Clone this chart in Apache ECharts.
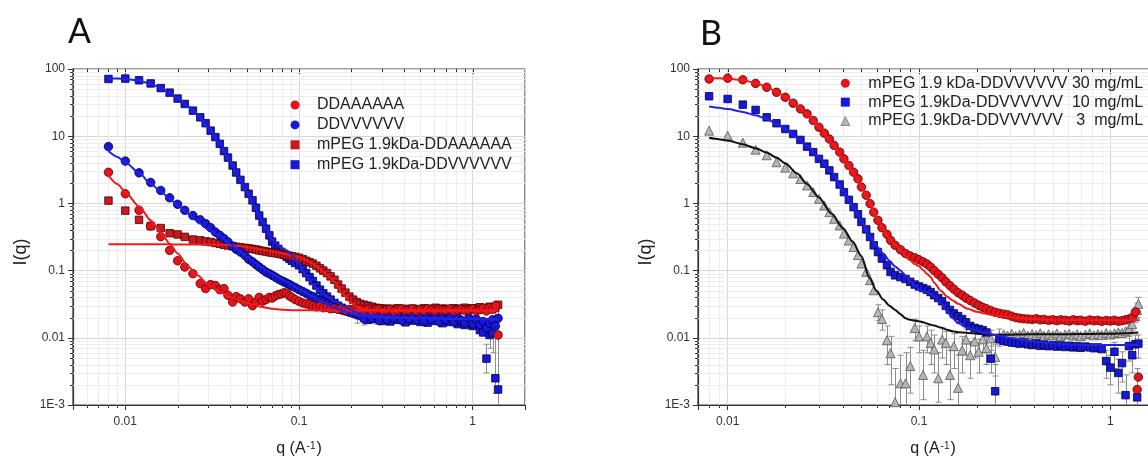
<!DOCTYPE html>
<html>
<head>
<meta charset="utf-8">
<script src="https://cdn.jsdelivr.net/npm/echarts@6.0.0/dist/echarts.min.js"></script>
<style>html,body{margin:0;padding:0;background:#fff}#c{width:1148px;height:459px}</style>
</head>
<body>
<div id="c"></div>
<script>
// ---------------- tick labels ----------------
const xTickVals = [0.01, 0.1, 1];
const xTickLabels = ['0.01', '0.1', '1'];
const yTickVals = [0.001, 0.01, 0.1, 1, 10, 100];
const yTickLabels = ['1E-3', '0.01', '0.1', '1', '10', '100'];
const xMinorA = [0.006,0.007,0.008,0.009,0.02,0.03,0.04,0.05,0.06,0.07,0.08,0.09,0.2,0.3,0.4,0.5,0.6,0.7,0.8,0.9];
const xMinorB = [0.008,0.009,0.02,0.03,0.04,0.05,0.06,0.07,0.08,0.09,0.2,0.3,0.4,0.5,0.6,0.7,0.8,0.9];
const yMinor = [0.002,0.003,0.004,0.005,0.006,0.007,0.008,0.009,0.02,0.03,0.04,0.05,0.06,0.07,0.08,0.09,
  0.2,0.3,0.4,0.5,0.6,0.7,0.8,0.9,2,3,4,5,6,7,8,9,20,30,40,50,60,70,80,90];

// ---------------- panel A data ----------------
const namesA = ['DDAAAAAA', 'DDVVVVVV', 'mPEG 1.9kDa-DDAAAAAA', 'mPEG 1.9kDa-DDVVVVVV'];
const qA = [0.008,0.010,0.012,0.014,0.016,0.018,0.020,0.022,0.0245,0.027,
  0.029,0.031,0.033,0.035,0.037,0.039,0.0415,0.0435,0.046,0.0488,
  0.0513,0.054,0.0565,0.059,0.0617,0.0646,0.0675,0.070,0.073,0.076,
  0.079,0.082,0.085,0.088,0.091,0.095,0.100,0.105,0.110,0.115,
  0.120,0.126,0.132,0.138,0.145,0.152,0.160,0.168,0.176,0.185,
  0.195,0.205,0.215,0.225,0.237,0.250,0.263,0.277,0.290,0.305,
  0.320,0.335,0.352,0.370,0.390,0.410,0.430,0.450,0.475,0.500,
  0.525,0.550,0.580,0.610,0.640,0.670,0.700,0.740,0.780,0.820,
  0.860,0.900,0.950,1.000,1.050,1.100,1.150,1.200,1.250,1.300,
  1.350,1.400];
const iA_DDA = [2.9,1.39,0.79,0.46,0.32,0.20,0.14,0.113,0.09,0.064,
  0.054,0.062,0.06,0.052,0.054,0.043,0.034,0.041,0.038,0.034,
  0.038,0.030,0.034,0.040,0.035,0.037,0.040,0.039,0.042,0.044,
  0.045,0.047,0.046,0.042,0.040,0.037,0.035,0.033,0.032,0.031,
  0.030,0.029,0.0295,0.028,0.0285,0.027,0.0275,0.0265,0.027,0.026,
  0.0265,0.026,0.0255,0.027,0.026,0.0265,0.025,0.0262,0.0268,0.0255,
  0.026,0.0265,0.025,0.0258,0.027,0.0255,0.026,0.0268,0.025,0.0262,
  0.0255,0.027,0.026,0.0252,0.0265,0.026,0.0258,0.0268,0.025,0.026,
  0.0265,0.0255,0.026,0.027,0.025,0.0262,0.0275,0.025,0.028,0.0265,
  0.030,0.011];
const iA_DDV = [7.0,4.26,2.85,2.05,1.56,1.21,0.97,0.79,0.66,0.57,
  0.50,0.435,0.375,0.335,0.30,0.267,0.232,0.207,0.189,0.169,
  0.148,0.135,0.123,0.113,0.104,0.095,0.09,0.085,0.08,0.075,
  0.071,0.068,0.065,0.062,0.059,0.056,0.052,0.049,0.046,0.043,
  0.041,0.038,0.036,0.034,0.032,0.030,0.028,0.027,0.026,0.025,
  0.024,0.023,0.022,0.0215,0.019,0.0225,0.0195,0.0215,0.018,0.0222,
  0.0188,0.0228,0.0195,0.0218,0.0182,0.0215,0.0192,0.0225,0.0185,0.021,
  0.0178,0.0215,0.019,0.0222,0.0175,0.021,0.0185,0.0205,0.0172,0.020,
  0.0182,0.0168,0.0198,0.016,0.019,0.0158,0.0175,0.014,0.0165,0.0185,
  0.015,0.0195];
const iA_PDA = [1.1,0.78,0.57,0.46,0.43,0.36,0.345,0.318,0.29,0.282,
  0.272,0.266,0.258,0.25,0.242,0.236,0.23,0.226,0.222,0.218,
  0.214,0.21,0.206,0.20,0.196,0.192,0.188,0.185,0.182,0.179,
  0.175,0.172,0.169,0.166,0.163,0.16,0.155,0.148,0.14,0.133,
  0.127,0.118,0.108,0.10,0.092,0.082,0.073,0.062,0.054,0.047,
  0.041,0.037,0.034,0.032,0.031,0.030,0.029,0.028,0.0275,0.027,
  0.0272,0.0265,0.027,0.0275,0.0265,0.027,0.026,0.0272,0.0268,0.026,
  0.0275,0.0265,0.027,0.028,0.0265,0.0272,0.027,0.0262,0.0275,0.027,
  0.0268,0.028,0.0265,0.0275,0.027,0.0285,0.0268,0.0275,0.029,0.0272,
  0.028,0.031];
const iA_PDV = [71,72,68,61,52,44.5,36.3,30.2,24,19.1,
  15.6,12.1,9.7,7.7,6.0,4.8,3.66,2.88,2.24,1.75,
  1.39,1.11,0.86,0.66,0.53,0.42,0.335,0.27,0.235,0.21,
  0.19,0.175,0.16,0.15,0.14,0.13,0.12,0.105,0.092,0.08,
  0.07,0.06,0.052,0.046,0.041,0.037,0.033,0.030,0.028,0.026,
  0.025,0.024,0.023,0.022,0.0205,0.0185,0.0225,0.019,0.0215,0.0178,
  0.021,0.0175,0.0205,0.0185,0.0215,0.017,0.020,0.018,0.0212,0.0172,
  0.0198,0.0168,0.0205,0.0178,0.0195,0.0165,0.0188,0.0172,0.0195,0.016,
  0.0175,0.0155,0.017,0.015,0.0165,0.013,0.012,0.0049,0.011,0.012,
  0.0025,0.0017];
const errA = [[0.215,0.0165,0.0225],[0.237,0.0155,0.022],[0.25,0.0165,0.023],[0.277,0.016,0.021],
  [1.2,0.003,0.008],[1.25,0.007,0.015],[1.3,0.006,0.016],[1.35,0.0015,0.025],[1.4,0.001,0.032]];
const fitQA = [0.008,0.009,0.010,0.012,0.014,0.016,0.018,0.020,0.023,0.026,
  0.030,0.035,0.040,0.045,0.050,0.055,0.060,0.065,0.070,0.075,
  0.080,0.085,0.090,0.100,0.110,0.120,0.130,0.140,0.150,0.160,
  0.180,0.200,0.220,0.250,0.300,0.350,0.400,0.500,0.600,0.800,
  1.000,1.200,1.400];
const fitA_DDA = [2.6,1.95,1.47,0.9,0.56,0.37,0.252,0.18,0.115,0.085,
  0.062,0.048,0.0405,0.036,0.033,0.031,0.029,0.028,0.027,0.0265,
  0.0262,0.026,0.0258,0.0257,0.0256,0.0256,0.0255,0.0255,0.0255,0.0255,
  0.0255,0.0255,0.0255,0.0255,0.0255,0.0255,0.0255,0.0255,0.0255,0.0255,
  0.0255,0.0255,0.0255];
const fitA_PDA = [0.246,0.246,0.246,0.246,0.246,0.246,0.246,0.245,0.245,0.245,
  0.244,0.242,0.238,0.232,0.225,0.217,0.208,0.200,0.193,0.187,
  0.181,0.175,0.168,0.158,0.145,0.127,0.11,0.093,0.08,0.067,
  0.044,0.033,0.028,0.026,0.0255,0.0255,0.0255,0.0255,0.0255,0.0255,
  0.0255,0.0255,0.0255];
const fitA_DDV = [6.0,4.9,4.1,2.85,1.96,1.5,1.17,0.95,0.7,0.54,
  0.41,0.33,0.25,0.2,0.16,0.135,0.115,0.1,0.09,0.082,
  0.074,0.068,0.062,0.053,0.046,0.041,0.036,0.033,0.030,0.028,
  0.025,0.0228,0.0215,0.0207,0.02,0.0198,0.0197,0.0195,0.0193,0.0191,
  0.019,0.0188,0.0186];
const fitA_PDV = [72,72,71,67,60,52,44,37,28,21,
  13.5,7.7,4.2,2.5,1.5,0.95,0.6,0.41,0.29,0.24,
  0.215,0.2,0.175,0.125,0.085,0.062,0.05,0.044,0.039,0.035,
  0.03,0.026,0.023,0.022,0.021,0.0205,0.02,0.0198,0.0196,0.0194,
  0.0192,0.019,0.0188];

// ---------------- panel B data ----------------
const namesB = ['mPEG 1.9 kDa-DDVVVVVV 30 mg/mL', 'mPEG 1.9kDa-DDVVVVVV  10 mg/mL', 'mPEG 1.9kDa-DDVVVVVV   3  mg/mL'];
const qB = [0.008,0.010,0.012,0.014,0.016,0.018,0.020,0.022,0.024,0.026,
  0.028,0.030,0.032,0.034,0.036,0.0385,0.0405,0.043,0.0455,0.048,
  0.050,0.053,0.0555,0.058,0.061,0.064,0.068,0.071,0.075,0.080,
  0.085,0.090,0.095,0.100,0.105,0.110,0.115,0.120,0.126,0.132,
  0.138,0.145,0.152,0.160,0.168,0.176,0.185,0.195,0.205,0.215,
  0.225,0.237,0.250,0.263,0.277,0.290,0.305,0.320,0.335,0.352,
  0.370,0.390,0.410,0.430,0.450,0.475,0.500,0.525,0.550,0.580,
  0.610,0.640,0.670,0.700,0.740,0.780,0.820,0.860,0.900,0.950,
  1.000,1.050,1.100,1.150,1.200,1.250,1.300,1.350,1.380,1.400];
const iB30 = [71,73,69,61,53.5,45,38,31,25.5,21.5,
  17.1,13.6,11.1,9.1,7.3,5.8,4.6,3.66,2.92,2.32,
  1.75,1.32,0.99,0.74,0.56,0.435,0.347,0.282,0.238,0.205,
  0.18,0.165,0.155,0.145,0.135,0.125,0.113,0.10,0.088,0.078,
  0.068,0.06,0.053,0.047,0.043,0.039,0.036,0.033,0.0305,0.0285,
  0.027,0.0255,0.024,0.0232,0.0225,0.022,0.021,0.020,0.0196,0.0192,
  0.019,0.0188,0.0192,0.0185,0.0188,0.0182,0.0186,0.018,0.0185,0.0182,
  0.0178,0.0185,0.018,0.0183,0.0177,0.0184,0.0179,0.0182,0.0176,0.0181,
  0.0178,0.0182,0.0176,0.018,0.0185,0.019,0.020,0.0243,0.0017,0.0026];
const iB10 = [39.3,35.8,29.5,24.6,19.1,15.6,12.8,10.8,8.8,7.0,
  5.8,4.6,3.9,3.1,2.46,1.91,1.47,1.13,0.88,0.69,
  0.53,0.41,0.316,0.238,0.189,0.151,0.12,0.0955,0.085,0.08,
  0.075,0.068,0.062,0.058,0.055,0.052,0.048,0.043,0.039,0.035,
  0.030,0.026,0.023,0.021,0.019,0.017,0.015,0.014,0.0135,0.013,
  0.012,0.0049,0.0016,0.0095,0.009,0.0088,0.0085,0.0084,0.0082,0.0085,
  0.008,0.0078,0.0082,0.0076,0.0079,0.0075,0.0078,0.0074,0.0077,0.0073,
  0.0076,0.0072,0.0075,0.0071,0.0074,0.0072,0.007,0.0072,0.0068,0.0045,
  0.0036,0.0062,0.003,0.0042,0.0014,0.0075,0.0055,0.008,0.0013,0.0082];
const iB3 = [12.1,10.2,8.0,6.3,5.2,4.1,3.4,2.8,2.3,1.85,
  1.47,1.17,0.93,0.74,0.59,0.47,0.355,0.28,0.224,0.17,
  0.127,0.096,0.072,0.051,0.024,0.019,0.0092,0.0059,0.0011,0.0021,
  0.0021,0.0038,0.014,0.0105,0.0028,0.0105,0.0084,0.0067,0.0025,0.0094,
  0.0084,0.0028,0.0075,0.0018,0.0065,0.0094,0.0055,0.0088,0.0062,0.0095,
  0.007,0.0098,0.0052,0.0105,0.0112,0.0108,0.0115,0.0106,0.0112,0.0118,
  0.0108,0.0114,0.011,0.0117,0.0107,0.0113,0.0109,0.0116,0.0106,0.0112,
  0.0115,0.0108,0.0113,0.0106,0.0112,0.0117,0.0109,0.0114,0.011,0.0118,
  0.0112,0.0116,0.0121,0.0118,0.0125,0.0135,0.016,0.021,0.026,0.032];
const errB3 = [[0.061,0.018,0.031],[0.064,0.013,0.026],[0.068,0.004,0.015],[0.071,0.002,0.0105],
  [0.075,0.001,0.0035],[0.08,0.001,0.0055],[0.085,0.001,0.006],[0.09,0.0015,0.0072],[0.095,0.009,0.019],
  [0.1,0.006,0.015],[0.105,0.0012,0.0065],[0.11,0.006,0.015],[0.115,0.004,0.013],[0.12,0.003,0.011],
  [0.126,0.0011,0.006],[0.132,0.005,0.014],[0.138,0.004,0.0125],[0.145,0.0012,0.0065],[0.152,0.0035,0.0115],
  [0.16,0.001,0.0055],[0.168,0.003,0.0105],[0.176,0.0055,0.0135],[0.185,0.0025,0.0088],[0.195,0.005,0.0125],
  [0.205,0.003,0.0095],[0.215,0.006,0.013],[0.225,0.004,0.01],[0.237,0.0065,0.013],[0.25,0.0027,0.008],
  [0.263,0.0075,0.0135],[1.25,0.011,0.016],[1.3,0.013,0.019],[1.35,0.017,0.026],[1.38,0.02,0.033],[1.4,0.025,0.04]];
const errB10 = [[0.237,0.003,0.0075],[0.25,0.001,0.004],[0.95,0.0025,0.0065],[1.0,0.002,0.0055],
  [1.05,0.0035,0.0085],[1.1,0.0015,0.0048],[1.15,0.0022,0.0062],[1.2,0.001,0.0028],[1.25,0.0045,0.0105],
  [1.3,0.003,0.0085],[1.35,0.005,0.011],[1.38,0.001,0.0035],[1.4,0.005,0.011]];
const fitQB = [0.008,0.009,0.010,0.012,0.014,0.016,0.018,0.020,0.023,0.026,
  0.030,0.035,0.040,0.045,0.050,0.055,0.060,0.065,0.070,0.075,
  0.080,0.085,0.090,0.095,0.100,0.105,0.110,0.115,0.120,0.130,
  0.140,0.150,0.160,0.180,0.200,0.220,0.250,0.300,0.350,0.400,
  0.500,0.600,0.800,1.000,1.200,1.400];
const fitB30 = [73,73,72,68,62,54,46,38.5,29,21.5,
  13.8,8.0,4.7,2.95,1.8,1.05,0.62,0.41,0.3,0.24,
  0.2,0.165,0.142,0.125,0.116,0.102,0.09,0.08,0.066,0.05,
  0.041,0.036,0.032,0.027,0.0245,0.023,0.0213,0.0203,0.0195,0.019,
  0.0186,0.0184,0.0183,0.0182,0.0182,0.0183];
const fitB10 = [27.6,26.5,25.3,23,20.5,18,15.3,12.8,9.6,7.2,
  4.8,2.9,1.55,0.92,0.55,0.33,0.23,0.18,0.14,0.115,
  0.1,0.084,0.07,0.06,0.053,0.05,0.048,0.045,0.041,0.033,
  0.025,0.0195,0.0165,0.014,0.0128,0.0118,0.011,0.0099,0.0093,0.0088,
  0.0083,0.008,0.0078,0.0078,0.0078,0.0078];
const fitB3 = [9.45,9.0,8.6,7.6,6.6,5.7,4.8,3.95,2.8,1.95,
  1.22,0.70,0.43,0.27,0.165,0.078,0.05,0.037,0.03,0.026,
  0.0225,0.0195,0.0185,0.018,0.0176,0.017,0.0163,0.0157,0.0152,0.0142,
  0.0132,0.0125,0.0121,0.0118,0.0115,0.0112,0.0111,0.0111,0.0112,0.0113,
  0.0113,0.0113,0.0114,0.0115,0.0117,0.012];

// ---------------- helpers ----------------
const FONT = '"Liberation Sans", Arial, Helvetica, sans-serif';
function toPts(qs, vs) { const o = []; for (let i = 0; i < qs.length; i++) if (vs[i] != null) o.push([qs[i], vs[i]]); return o; }
function near(v, t) { return Math.abs(Math.log10(v) - Math.log10(t)) < 1e-6; }
function fmtX(v) { for (let i = 0; i < xTickVals.length; i++) if (near(v, xTickVals[i])) return xTickLabels[i]; return ''; }
function fmtY(v) { for (let i = 0; i < yTickVals.length; i++) if (near(v, yTickVals[i])) return yTickLabels[i]; return ''; }

function xAxisCfg(gi, min, max) {
  return {
    type: 'log', logBase: 10, gridIndex: gi, min: min, max: max,
    axisLine: { show: true, onZero: false, lineStyle: { color: '#333', width: 1.2 } },
    axisTick: { show: true, inside: false, length: 5, lineStyle: { color: '#333', width: 1 } },
    axisLabel: { margin: 11, fontSize: 12, color: '#333', fontFamily: FONT, formatter: fmtX },
    splitLine: { show: true, lineStyle: { color: '#d6d6d6', width: 1 } },
    minorTick: { show: false }, minorSplitLine: { show: false },
    name: 'q (A{s|-1})', nameLocation: 'middle', nameGap: 36,
    nameTextStyle: { fontSize: 16, color: '#222', fontFamily: FONT,
      rich: { s: { fontSize: 10, fontFamily: FONT, color: '#222', verticalAlign: 'top', padding: [0, 1, 6, 1] } } }
  };
}
function yAxisCfg(gi) {
  return {
    type: 'log', logBase: 10, gridIndex: gi, min: 0.001, max: 100,
    axisLine: { show: true, onZero: false, lineStyle: { color: '#333', width: 1.2 } },
    axisTick: { show: true, inside: false, length: 5, lineStyle: { color: '#333', width: 1 } },
    axisLabel: { margin: 8, fontSize: 12, color: '#333', fontFamily: FONT, formatter: fmtY },
    splitLine: { show: true, lineStyle: { color: '#d6d6d6', width: 1 } },
    minorTick: { show: false }, minorSplitLine: { show: false },
    name: 'I(q)', nameLocation: 'middle', nameGap: 43,
    nameTextStyle: { fontSize: 18, color: '#222', fontFamily: FONT, padding: [0, 30, 0, 0] }
  };
}

function decorData(xMinor) {
  const d = [];
  xMinor.forEach(v => d.push([v, 1, 0]));
  xTickVals.forEach(v => d.push([v, 1, 2]));
  yMinor.forEach(v => d.push([1, v, 1]));
  return d;
}
function decorSeries(gi, xMinor) {
  return {
    type: 'custom', xAxisIndex: gi, yAxisIndex: gi, silent: true, z: 1, clip: false,
    encode: { x: 0, y: 1 }, data: decorData(xMinor),
    renderItem: function (params, api) {
      const cs = params.coordSys;
      const L = cs.x, R = cs.x + cs.width, T = cs.y, B = cs.y + cs.height;
      const kind = api.value(2);
      const ch = [];
      if (kind === 0 || kind === 2) {
        const px = Math.round(api.coord([api.value(0), 1])[0]) + 0.5;
        if (kind === 0) {
          ch.push({ type: 'line', shape: { x1: px, y1: T, x2: px, y2: B }, style: { stroke: '#ededed', lineWidth: 1 } });
          ch.push({ type: 'line', shape: { x1: px, y1: B, x2: px, y2: B + 3 }, style: { stroke: '#333', lineWidth: 1 } });
          ch.push({ type: 'line', shape: { x1: px, y1: T, x2: px, y2: T + 3 }, style: { stroke: '#333', lineWidth: 1 } });
        } else {
          ch.push({ type: 'line', shape: { x1: px, y1: T, x2: px, y2: T + 5 }, style: { stroke: '#333', lineWidth: 1 } });
        }
      } else {
        const py = Math.round(api.coord([1, api.value(1)])[1]) + 0.5;
        ch.push({ type: 'line', shape: { x1: L, y1: py, x2: R, y2: py }, style: { stroke: '#ededed', lineWidth: 1 } });
        ch.push({ type: 'line', shape: { x1: L - 3, y1: py, x2: L, y2: py }, style: { stroke: '#333', lineWidth: 1 } });
      }
      return { type: 'group', children: ch };
    }
  };
}
function errSeries(gi, data) {
  return {
    type: 'custom', xAxisIndex: gi, yAxisIndex: gi, silent: true, z: 2, clip: true,
    encode: { x: 0, y: [1, 2] }, data: data,
    renderItem: function (params, api) {
      const p1 = api.coord([api.value(0), api.value(1)]);
      const p2 = api.coord([api.value(0), api.value(2)]);
      const x = Math.round(p1[0]) + 0.5;
      const st = { stroke: '#8c8c8c', lineWidth: 1 };
      return { type: 'group', children: [
        { type: 'line', shape: { x1: x, y1: p1[1], x2: x, y2: p2[1] }, style: st },
        { type: 'line', shape: { x1: x - 3, y1: p1[1], x2: x + 3, y2: p1[1] }, style: st },
        { type: 'line', shape: { x1: x - 3, y1: p2[1], x2: x + 3, y2: p2[1] }, style: st }
      ] };
    }
  };
}
function scat(gi, name, qs, vs, symbol, size, color, border) {
  return { type: 'scatter', name: name, xAxisIndex: gi, yAxisIndex: gi, z: 3,
    symbol: symbol, symbolSize: size, data: toPts(qs, vs),
    itemStyle: { color: color, borderColor: border, borderWidth: 0.8, opacity: 1 } };
}
function fit(gi, qs, vs, color) {
  return { type: 'line', xAxisIndex: gi, yAxisIndex: gi, z: 4, showSymbol: false, symbol: 'none',
    smooth: 0.25, smoothMonotone: 'x', data: toPts(qs, vs), silent: true,
    lineStyle: { color: color, width: 2 } };
}

const RED = '#e5141c', RED_S = '#c9191f', BLUE = '#1818d8', GRAY = '#b5b5b5';

const option = {
  animation: false,
  backgroundColor: '#ffffff',
  textStyle: { fontFamily: FONT },
  grid: [
    { left: 73, top: 69, width: 452, height: 336, show: true, borderColor: '#3c3c3c', borderWidth: 1.2,
      backgroundColor: 'transparent', containLabel: false, outerBoundsMode: 'none' },
    { left: 698, top: 69, width: 470, height: 336, show: true, borderColor: '#3c3c3c', borderWidth: 1.2,
      backgroundColor: 'transparent', containLabel: false, outerBoundsMode: 'none' }
  ],
  xAxis: [xAxisCfg(0, 0.005, 2), xAxisCfg(1, 0.007, 2)],
  yAxis: [yAxisCfg(0), yAxisCfg(1)],
  graphic: [
    { type: 'text', left: 68, top: 15, style: { text: 'A', font: '34px Lato, "Open Sans", sans-serif', fill: '#111' } },
    { type: 'text', left: 700, top: 17, style: { text: 'B', font: '34px Lato, "Open Sans", sans-serif', fill: '#111' } }
  ],
  legend: [
    { left: 290.5, top: 97, orient: 'vertical', padding: 0, itemWidth: 9, itemHeight: 9, itemGap: 3.9,
      selectedMode: false, itemStyle: { borderWidth: 0 },
      textStyle: { fontSize: 16, color: '#222', fontFamily: FONT, lineHeight: 16, padding: [0, 0, 0, 12.5] },
      data: [ { name: namesA[0], icon: 'circle' }, { name: namesA[1], icon: 'circle' },
              { name: namesA[2], icon: 'path://M0,0 L8,0 L8,8 L0,8 Z' }, { name: namesA[3], icon: 'path://M0,0 L8,0 L8,8 L0,8 Z' } ] },
    { left: 840.5, top: 75.3, orient: 'vertical', padding: 0, itemWidth: 9, itemHeight: 9, itemGap: 2.85,
      selectedMode: false,
      textStyle: { fontSize: 16, color: '#222', fontFamily: FONT, lineHeight: 16, padding: [0, 0, 0, 13.5] },
      data: [ { name: namesB[0], icon: 'circle', itemStyle: { borderWidth: 0 } },
              { name: namesB[1], icon: 'rect', itemStyle: { borderWidth: 0 } },
              { name: namesB[2], icon: 'triangle', itemStyle: { borderWidth: 0.6 } } ] }
  ],
  series: [
    decorSeries(0, xMinorA),
    decorSeries(1, xMinorB),
    errSeries(0, errA),
    errSeries(1, errB3),
    errSeries(1, errB10),
    // panel A
    scat(0, namesA[3], qA, iA_PDV, 'rect', 7.5, BLUE, '#00003c'),
    scat(0, namesA[2], qA, iA_PDA, 'rect', 7.5, RED_S, '#4a0000'),
    scat(0, namesA[1], qA, iA_DDV, 'circle', 8.5, BLUE, '#00003c'),
    scat(0, namesA[0], qA, iA_DDA, 'circle', 8.5, RED, '#5a0000'),
    fit(0, fitQA, fitA_PDA, '#f01c1c'),
    fit(0, fitQA, fitA_DDA, '#f01c1c'),
    fit(0, fitQA, fitA_PDV, '#2222e6'),
    fit(0, fitQA, fitA_DDV, '#2222e6'),
    // panel B
    scat(1, namesB[2], qB, iB3, 'triangle', 9, GRAY, '#555555'),
    scat(1, namesB[1], qB, iB10, 'rect', 7.5, BLUE, '#00003c'),
    scat(1, namesB[0], qB, iB30, 'circle', 8.5, RED, '#5a0000'),
    fit(1, fitQB, fitB3, '#111111'),
    fit(1, fitQB, fitB10, '#2222e6'),
    fit(1, fitQB, fitB30, '#f01c1c')
  ]
};

const chart = echarts.init(document.getElementById('c'), null, { renderer: 'canvas' });
chart.setOption(option);
</script>
</body>
</html>
